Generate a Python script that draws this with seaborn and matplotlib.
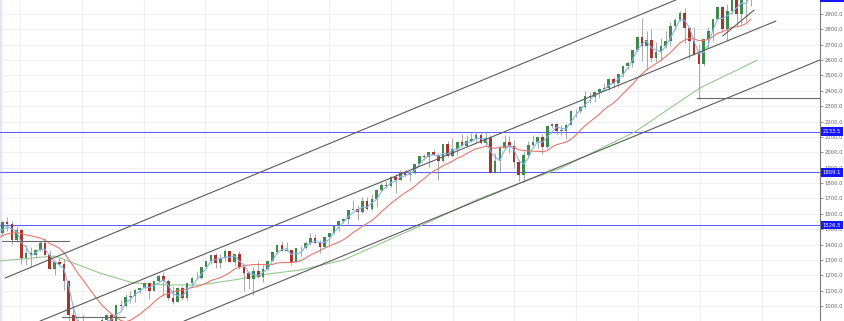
import numpy as np
import pandas as pd
import matplotlib
matplotlib.use("Agg")
import matplotlib.pyplot as plt
import matplotlib.patches as mpatches
import seaborn as sns

# ---------------- data (4-week candles, index value) ----------------
start_year = 2006.68
period_years = 28 / 365.25
first_open = 1303

closes = [
    1334, 1378, 1386, 1410, 1422, 1456, 1402, 1468, 1503, 1509, 1531, 1467, 1474,
    1546, 1531, 1428, 1497, 1310, 1348, 1330, 1365, 1408, 1335, 1244, 1284, 1275,
    1166, 940, 857, 864, 805, 789, 778, 841, 909, 942, 881, 1005, 998,
    1060, 1063, 1106, 1118, 1150, 1095, 1160, 1197, 1160, 1050, 1028, 1120, 1049,
    1147, 1185, 1180, 1254, 1295, 1332, 1281, 1314, 1357, 1285, 1337, 1255, 1212,
    1175, 1229, 1189, 1241, 1293, 1350, 1396, 1358, 1364, 1285, 1375, 1379, 1410,
    1441, 1413, 1387, 1446, 1472, 1519, 1552, 1568, 1625, 1631, 1615, 1685, 1630,
    1697, 1754, 1787, 1781, 1838, 1819, 1868, 1852, 1868, 1924, 1973, 1970, 2000,
    1983, 1941, 2052, 1973, 2023, 2068, 2044, 2076, 2089, 2112, 2063, 2093, 1868,
    1943, 2031, 2066, 2043, 1939, 1853, 1980, 2045, 2064, 2097, 2036, 2169, 2187,
    2140, 2140, 2180, 2272, 2269, 2293, 2368, 2360, 2391, 2412, 2419, 2477, 2452,
    2508, 2559, 2579, 2664, 2751, 2695, 2728, 2614, 2655, 2690, 2723, 2820, 2862,
    2905, 2810, 2722, 2637, 2574, 2737, 2789, 2867, 2946, 2802, 2917, 3005, 2900,
    3005, 2995, 3091]

highs = [
    1340, 1389, 1407, 1431, 1435, 1461, 1461, 1469, 1513, 1540, 1540, 1555, 1504,
    1550, 1576, 1553, 1523, 1500, 1396, 1385, 1370, 1425, 1440, 1365, 1292, 1313,
    1303, 1167, 1007, 918, 943, 877, 804, 876, 930, 946, 956, 1007, 1039,
    1080, 1101, 1113, 1120, 1150, 1150, 1162, 1199, 1219, 1173, 1131, 1125, 1129,
    1148, 1189, 1227, 1255, 1296, 1333, 1344, 1339, 1371, 1359, 1340, 1356, 1261,
    1230, 1256, 1293, 1267, 1296, 1355, 1397, 1422, 1415, 1366, 1375, 1392, 1426,
    1475, 1470, 1430, 1448, 1474, 1524, 1556, 1570, 1626, 1687, 1658, 1709, 1709,
    1730, 1760, 1798, 1814, 1849, 1850, 1883, 1884, 1885, 1925, 1974, 1991, 2005,
    2019, 1998, 2056, 2076, 2094, 2073, 2119, 2114, 2126, 2134, 2130, 2132, 2112,
    1993, 2039, 2116, 2104, 2081, 1950, 2009, 2075, 2111, 2102, 2120, 2176, 2194,
    2193, 2175, 2188, 2277, 2282, 2300, 2401, 2390, 2398, 2418, 2454, 2484, 2491,
    2509, 2560, 2597, 2666, 2759, 2873, 2789, 2802, 2717, 2742, 2791, 2848, 2873,
    2917, 2941, 2816, 2815, 2708, 2738, 2816, 2868, 2949, 2954, 2964, 3018, 3028,
    3022, 3016, 3097]

lows = [
    1290, 1331, 1360, 1385, 1403, 1416, 1364, 1400, 1466, 1490, 1490, 1427, 1370,
    1455, 1490, 1406, 1418, 1274, 1270, 1256, 1312, 1360, 1330, 1240, 1200, 1262,
    1106, 840, 741, 815, 804, 780, 666, 765, 826, 878, 879, 869, 990,
    991, 1020, 1029, 1086, 1114, 1045, 1095, 1155, 1066, 1040, 1011, 1028, 1040,
    1040, 1131, 1173, 1174, 1254, 1275, 1249, 1250, 1295, 1284, 1258, 1240, 1101,
    1114, 1075, 1185, 1158, 1232, 1291, 1340, 1357, 1357, 1267, 1285, 1325, 1371,
    1397, 1410, 1343, 1385, 1398, 1468, 1485, 1538, 1536, 1622, 1560, 1605, 1627,
    1627, 1646, 1746, 1767, 1775, 1737, 1817, 1839, 1814, 1859, 1915, 1952, 1905,
    1980, 1821, 1940, 1972, 1970, 1980, 2039, 2039, 2067, 2067, 2056, 2044, 1867,
    1867, 1871, 2019, 1993, 1901, 1812, 1810, 1969, 2040, 2025, 1992, 2030, 2156,
    2119, 2114, 2084, 2175, 2233, 2257, 2290, 2322, 2328, 2353, 2405, 2406, 2417,
    2428, 2488, 2542, 2557, 2662, 2594, 2533, 2585, 2586, 2594, 2680, 2692, 2795,
    2855, 2710, 2604, 2631, 2346, 2560, 2681, 2722, 2867, 2785, 2729, 2903, 2822,
    2834, 2855, 2952]

# long moving average (year, value)
slow_ma_years = [2007.68, 2008.37, 2008.57, 2009.29, 2009.83, 2010.38, 2010.91,
                 2011.45, 2012.00, 2012.53, 2013.23, 2014.47, 2015.44, 2016.09,
                 2016.74, 2017.95, 2018.47, 2019.00, 2019.93]
slow_ma_values = [1293, 1319, 1325, 1215, 1150, 1137, 1137,
                  1169, 1208, 1234, 1299, 1520, 1700, 1800,
                  1896, 2133, 2275, 2418, 2600]

fast_window = 3
mid_window = 13

# drawn trend lines (year, value) pairs
channel_lines = [
    ((2007.757, 1182), (2018.70, 3006)),
    ((2008.323, 902), (2020.232, 2854)),
    ((2010.653, 902), (2020.945, 2601)),
    ((2019.37, 2757), (2019.88, 2926)),
]
flat_lines = [
    ((2007.708, 2008.793), 1423),
    ((2008.68, 2009.70), 928),
    ((2018.954, 2020.945), 2353),
]
blue_levels = [2133.5, 1869.1, 1526.5]
top_marker_value = 2999.0

x_range = (2007.676, 2020.945)
y_range = (902.6, 2991.1)
y_ticks = list(range(1000, 3000, 100))
year_grid = list(range(2008, 2021))

assert len(closes) == len(highs) == len(lows)

# ---------------- frame ----------------
opens = [first_open] + closes[:-1]
t = [start_year + (i + 0.5) * period_years for i in range(len(closes))]
df = pd.DataFrame({"t": t, "open": opens, "close": closes, "high": highs, "low": lows})
df["fast"] = df["close"].rolling(fast_window).mean()
df["mid"] = df["close"].rolling(mid_window).mean()
vis = df[df["t"] >= x_range[0] - period_years]
slow = pd.DataFrame({"t": slow_ma_years, "v": slow_ma_values})

sns.set_style("white")
fig = plt.figure(figsize=(8.45, 3.21), dpi=100)
ax = fig.add_axes([0, 0, 820 / 845, 1])

# grid
for yr in year_grid:
    ax.axvline(yr, color="#f0f0f3", lw=0.8, zorder=0)
for v in y_ticks:
    ax.axhline(v, color="#f0f0f3", lw=0.8, zorder=0)
ax.axvline(x_range[0], color="#e3e5f3", lw=2.5, zorder=0)

# blue levels
for lv in blue_levels:
    ax.axhline(lv, color="#5c5cff", lw=0.75, zorder=1)

# candles
up = vis["close"] >= vis["open"]
ax.vlines(vis["t"], vis["low"], vis["high"], color="#9a9a9a", lw=0.6, zorder=3)
body = (vis["close"] - vis["open"]).abs().clip(lower=3)
ax.bar(vis["t"], body, bottom=np.minimum(vis["open"], vis["close"]),
       width=period_years * 0.55, color=np.where(up, "#3d8a4c", "#a5342a"),
       linewidth=0, zorder=4)

# moving averages
sns.lineplot(data=slow, x="t", y="v", ax=ax, color="#94c98c", lw=0.8, zorder=2)
sns.lineplot(data=vis.dropna(subset=["mid"]), x="t", y="mid", ax=ax,
             color="#e5776d", lw=0.8, zorder=4.5)
sns.lineplot(data=vis.dropna(subset=["fast"]), x="t", y="fast", ax=ax,
             color="#84b6ec", lw=0.8, zorder=4.6)

# trend lines
for (x0, y0), (x1, y1) in channel_lines:
    ax.plot([x0, x1], [y0, y1], color="#5a5a5a", lw=0.8, zorder=5)
for (x0, x1), v in flat_lines:
    ax.plot([x0, x1], [v, v], color="#6a6a6a", lw=0.8, zorder=5)

ax.set_xlim(*x_range)
ax.set_ylim(*y_range)
ax.set_xlabel("")
ax.set_ylabel("")
ax.set_xticks([])
ax.yaxis.tick_right()
ax.set_yticks(y_ticks)
ax.set_yticklabels([f"{v:.1f}" for v in y_ticks])
ax.tick_params(axis="y", labelsize=3.8, colors="#666666", length=2, width=0.5, pad=1.5)
for s in ["top", "left", "bottom"]:
    ax.spines[s].set_visible(False)
ax.spines["right"].set_color("#7a7a7a")
ax.spines["right"].set_linewidth(0.8)

trans = ax.get_yaxis_transform()
for lv in blue_levels:
    ax.text(1.003, lv, f"{lv:.1f}", transform=trans, fontsize=3.8, color="white",
            va="center", ha="left", clip_on=False, zorder=10,
            bbox=dict(boxstyle="square,pad=0.35", fc="#1515ff", ec="none"))
# price marker box at the top edge (only its lower part is visible)
ax.add_patch(mpatches.Rectangle((1.0, top_marker_value - 22), 0.03, 44,
                                transform=trans, fc="#1515ff", ec="none",
                                clip_on=False, zorder=10))

fig.savefig("out.png", dpi=100)
